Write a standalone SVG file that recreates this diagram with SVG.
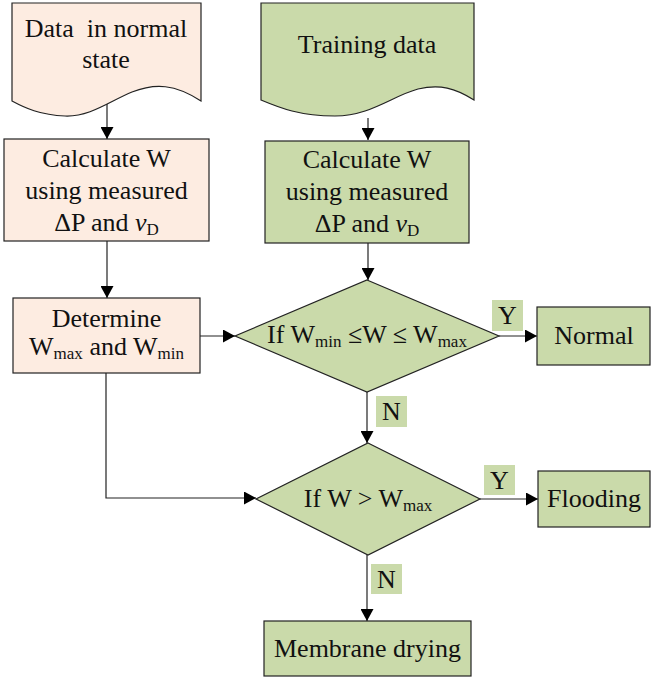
<svg xmlns="http://www.w3.org/2000/svg" width="651" height="677" viewBox="0 0 651 677">
<style>
.pink{fill:#FDECE1;stroke:#222;stroke-width:1.2}
.green{fill:#CADAAA;stroke:#222;stroke-width:1.2}
.lab{fill:#CADAAA;stroke:none}
text{font-size:26px;fill:#111;text-anchor:middle}
.sub{font-size:17px}
.conn{fill:none;stroke:#222;stroke-width:1.2}
</style>
<defs>
<marker id="arr" markerUnits="userSpaceOnUse" markerWidth="13" markerHeight="13" refX="12" refY="6.5" orient="auto">
<path d="M0,0 L12,6.5 L0,13 z" fill="#000"/>
</marker>
</defs>
<g id="connectors">
<path class="conn" d="M107,103 V139" marker-end="url(#arr)"/>
<path class="conn" d="M368,118 V140" marker-end="url(#arr)"/>
<path class="conn" d="M107,241 V298" marker-end="url(#arr)"/>
<path class="conn" d="M368,243 V280" marker-end="url(#arr)"/>
<path class="conn" d="M200,336 H235" marker-end="url(#arr)"/>
<path class="conn" d="M499,336 H537" marker-end="url(#arr)"/>
<path class="conn" d="M367,392 V443" marker-end="url(#arr)"/>
<path class="conn" d="M106,373 V498 H256" marker-end="url(#arr)"/>
<path class="conn" d="M480,499 H538" marker-end="url(#arr)"/>
<path class="conn" d="M367,555 V621" marker-end="url(#arr)"/>
</g>
<g font-family="Liberation Serif, serif">
<g id="data-normal">
<path class="pink" d="M12,3 H201 V101 C175,84 155,83 132,92 C110,101 90,117 65,116 C40,115 25,108 12,101 Z"/>
<text x="106" y="37" xml:space="preserve">Data  in normal</text>
<text x="106" y="68">state</text>
</g>
<g id="training-data">
<path class="green" d="M261,3 H474 V100 C455,88 440,84 418,89 C392,96 370,116 335,116 C300,116 280,108 261,100 Z"/>
<text x="367" y="53">Training data</text>
</g>
<g id="calc-left">
<rect class="pink" x="4" y="139" width="205" height="102"/>
<text x="106.5" y="167">Calculate W</text>
<text x="106.5" y="199">using measured</text>
<text x="106.5" y="231">ΔP and <tspan font-style="italic">v</tspan><tspan class="sub" dy="4">D</tspan></text>
</g>
<g id="calc-right">
<rect class="green" x="265" y="141" width="204" height="102"/>
<text x="367" y="168">Calculate W</text>
<text x="367" y="200">using measured</text>
<text x="367" y="232">ΔP and <tspan font-style="italic">v</tspan><tspan class="sub" dy="4">D</tspan></text>
</g>
<g id="determine">
<rect class="pink" x="13" y="298" width="187" height="75"/>
<text x="106.5" y="327">Determine</text>
<text x="106.5" y="355">W<tspan class="sub" dy="4">max</tspan><tspan dy="-4"> and W</tspan><tspan class="sub" dy="4">min</tspan></text>
</g>
<g id="decision-range">
<path class="green" d="M367,280 L499,336 L367,392 L235,336 Z"/>
<text x="367" y="343">If W<tspan class="sub" dy="4">min</tspan><tspan dy="-4"> ≤W ≤ W</tspan><tspan class="sub" dy="4">max</tspan></text>
</g>
<g id="label-y1">
<rect class="lab" x="492" y="300" width="31" height="31"/>
<text x="507.5" y="324">Y</text>
</g>
<g id="normal">
<rect class="green" x="537" y="307" width="113" height="58"/>
<text x="594" y="344">Normal</text>
</g>
<g id="label-n1">
<rect class="lab" x="376" y="396" width="31" height="31"/>
<text x="391.5" y="420">N</text>
</g>
<g id="decision-flood">
<path class="green" d="M368,443 L480,499 L368,555 L256,499 Z"/>
<text x="368" y="507">If W &gt; W<tspan class="sub" dy="4">max</tspan></text>
</g>
<g id="label-y2">
<rect class="lab" x="484" y="465" width="31" height="30"/>
<text x="499.5" y="489">Y</text>
</g>
<g id="flooding">
<rect class="green" x="538" y="471" width="112" height="56"/>
<text x="594" y="507">Flooding</text>
</g>
<g id="label-n2">
<rect class="lab" x="371" y="564" width="31" height="30"/>
<text x="386.5" y="588">N</text>
</g>
<g id="membrane">
<rect class="green" x="264" y="621" width="207" height="55"/>
<text x="367.5" y="657">Membrane drying</text>
</g>
</g>
</svg>
